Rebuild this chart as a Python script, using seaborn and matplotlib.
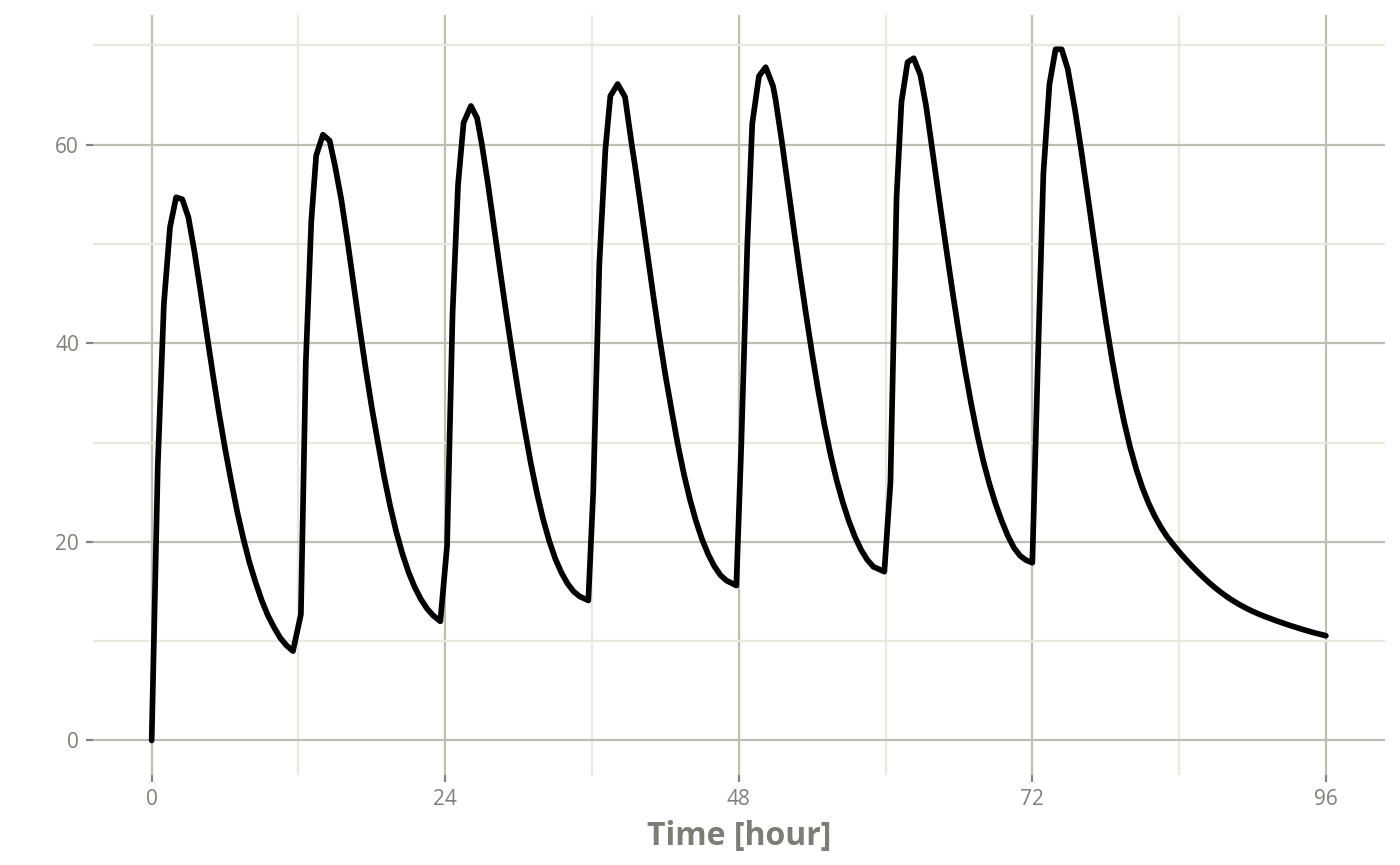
import pandas as pd
import matplotlib.pyplot as plt
import seaborn as sns
from matplotlib.ticker import MultipleLocator

# concentration-time profile (7 doses, 12 h apart)
time_c1 = [0, 0.5, 1.0, 1.5, 2.0, 2.5, 3.0, 3.5, 4.0, 4.5, 5.0, 5.5, 6.0, 6.5,
           7.0, 7.5, 8.0, 8.5, 9.0, 9.5, 10.0, 10.5, 11.0, 11.55]
conc_c1 = [0, 27.7, 44.0, 51.7, 54.7, 54.5, 52.7, 49.2, 45.2, 41.0, 36.9, 33.0,
           29.4, 26.1, 23.0, 20.3, 17.9, 15.9, 14.1, 12.6, 11.4, 10.35, 9.6, 9.0]

time_c2 = [12.2, 12.6, 13.05, 13.45, 14.0, 14.55, 15.0, 15.5, 16.0, 16.5, 17.0,
           17.5, 18.0, 18.5, 19.0, 19.5, 20.0, 20.5, 21.0, 21.5, 22.0, 22.5,
           23.0, 23.6]
conc_c2 = [12.7, 38.0, 52.3, 58.9, 61.0, 60.4, 57.8, 54.5, 50.4, 46.0, 41.6,
           37.4, 33.5, 30.0, 26.6, 23.6, 21.0, 18.8, 16.95, 15.45, 14.25, 13.3,
           12.6, 12.0]

time_c3 = [24.15, 24.6, 25.05, 25.5, 26.1, 26.6, 27.0, 27.5, 28.0, 28.5, 29.0,
           29.5, 30.0, 30.5, 31.0, 31.5, 32.0, 32.5, 33.0, 33.5, 34.0, 34.5,
           35.0, 35.7]
conc_c3 = [19.6, 43.0, 56.0, 62.2, 63.9, 62.7, 60.0, 56.0, 51.6, 47.2, 42.9,
           38.8, 34.9, 31.3, 27.9, 24.9, 22.3, 20.1, 18.3, 16.9, 15.8, 15.0,
           14.5, 14.1]

time_c4 = [36.1, 36.6, 37.1, 37.5, 38.1, 38.7, 39.25, 39.5, 40.0, 40.5, 41.0,
           41.5, 42.0, 42.5, 43.0, 43.5, 44.0, 44.5, 45.0, 45.5, 46.0, 46.5,
           47.0, 47.8]
conc_c4 = [25.0, 48.0, 59.6, 64.9, 66.1, 64.8, 60.0, 58.0, 53.7, 49.3, 44.9,
           40.7, 36.8, 33.3, 29.9, 26.9, 24.3, 22.1, 20.25, 18.75, 17.55, 16.65,
           16.1, 15.6]

time_c5 = [48.2, 48.7, 49.1, 49.65, 50.2, 50.8, 51.0, 51.5, 52.0, 52.5, 53.0,
           53.5, 54.0, 54.5, 55.0, 55.5, 56.0, 56.5, 57.0, 57.5, 58.0, 58.5,
           59.0, 59.9]
conc_c5 = [29.6, 50.0, 62.1, 66.9, 67.8, 65.9, 64.6, 60.5, 56.0, 51.5, 47.1,
           42.9, 38.9, 35.2, 31.8, 28.8, 26.2, 24.0, 22.1, 20.5, 19.2, 18.2,
           17.5, 17.0]

time_c6 = [60.4, 60.9, 61.3, 61.8, 62.3, 62.85, 63.3, 63.5, 64.0, 64.5, 65.0,
           65.5, 66.0, 66.5, 67.0, 67.5, 68.0, 68.5, 69.0, 69.5, 70.0, 70.5,
           71.0, 71.5, 72.0]
conc_c6 = [26.0, 54.7, 64.3, 68.3, 68.7, 67.0, 64.0, 62.3, 57.9, 53.5, 49.2,
           45.0, 41.0, 37.3, 33.9, 30.8, 28.1, 25.8, 23.8, 22.1, 20.6, 19.4,
           18.6, 18.15, 17.9]

time_c7 = [72.45, 72.9, 73.4, 73.9, 74.4, 74.9, 75.5, 76.0, 76.5, 77.0, 77.5,
           78.0, 78.5, 79.0, 79.5, 80.0, 80.5, 81.0, 81.5, 82.0, 82.5, 83.0,
           83.5, 84.0, 84.5, 85.0, 85.5, 86.0, 86.5, 87.0, 87.5, 88.0, 88.5,
           89.0, 89.5, 90.0, 90.5, 91.0, 92.0, 93.0, 94.0, 95.0, 96.0]
conc_c7 = [38.0, 57.0, 66.1, 69.6, 69.6, 67.6, 63.4, 59.4, 55.1, 50.7, 46.4,
           42.3, 38.5, 35.1, 32.1, 29.5, 27.3, 25.45, 23.9, 22.6, 21.5, 20.55,
           19.75, 19.0, 18.3, 17.63, 17.0, 16.4, 15.84, 15.32, 14.84, 14.4, 14.0,
           13.64, 13.31, 13.01, 12.74, 12.49, 12.03, 11.61, 11.22, 10.86, 10.55]

x_ticks = [0, 24, 48, 72, 96]
y_ticks = [0, 20, 40, 60]

df = pd.DataFrame({
    "time": time_c1 + time_c2 + time_c3 + time_c4 + time_c5 + time_c6 + time_c7,
    "conc": conc_c1 + conc_c2 + conc_c3 + conc_c4 + conc_c5 + conc_c6 + conc_c7,
})

sns.set_theme(style="white")
plt.rcParams["font.family"] = ["Open Sans", "DejaVu Sans"]

fig, ax = plt.subplots(figsize=(14, 8.65), dpi=100)
fig.subplots_adjust(left=0.0664, right=0.989, top=0.9827, bottom=0.104)

sns.lineplot(data=df, x="time", y="conc", color="black", linewidth=4.1,
             ax=ax, zorder=3)

ax.set_xlim(-4.8, 100.8)
ax.set_ylim(-3.48, 73.06)
ax.set_xticks(x_ticks)
ax.set_yticks(y_ticks)
ax.xaxis.set_minor_locator(MultipleLocator(12))
ax.yaxis.set_minor_locator(MultipleLocator(10))

ax.set_axisbelow(True)
ax.grid(which="major", color="#bebeb2", linewidth=1.6)
ax.grid(which="minor", color="#e8e8dc", linewidth=1.6)
ax.tick_params(which="minor", length=0)
ax.tick_params(which="major", length=5, width=1.6, color="#85857d",
               labelsize=15, labelcolor="#808078", pad=5,
               bottom=True, left=True)
for s in ax.spines.values():
    s.set_visible(False)

ax.set_xlabel("Time [hour]", fontsize=23, fontweight="bold", color="#7d7d75",
              labelpad=7)
ax.set_ylabel("")

fig.savefig("out.png", dpi=100)
